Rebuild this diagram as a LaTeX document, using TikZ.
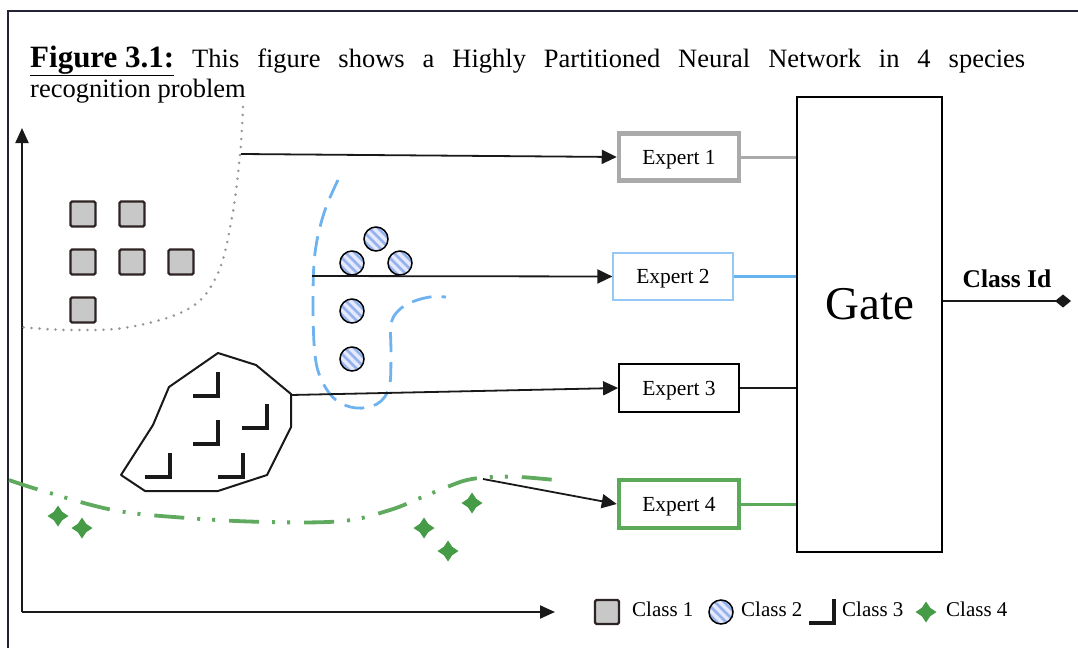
\documentclass[tikz,border=0pt]{standalone}
\usepackage{fontspec}
\setmainfont{Liberation Serif}
\usetikzlibrary{arrows.meta}

\definecolor{framec}{RGB}{35,35,55}
\definecolor{sqfill}{RGB}{200,200,200}
\definecolor{sqedge}{RGB}{45,35,35}
\definecolor{hatchbg}{RGB}{228,234,252}
\definecolor{hatchln}{RGB}{150,178,238}
\definecolor{bluedash}{RGB}{110,178,240}
\definecolor{greenln}{RGB}{95,170,95}
\definecolor{greenst}{RGB}{70,155,70}
\definecolor{greyln}{RGB}{170,170,170}
\definecolor{dotc}{RGB}{150,150,150}
\definecolor{expblue}{RGB}{150,200,245}
\definecolor{lineblue}{RGB}{100,180,240}
\definecolor{expgreen}{RGB}{90,170,90}

\tikzset{
  frameline/.style={draw=framec, line width=1.8pt},
  axisline/.style={line width=2pt, black!90, -{Triangle[length=15pt,width=13pt]}},
  feed/.style={line width=1.8pt, black!90, -{Triangle[length=15pt,width=14pt]}},
  sqmark/.style={draw=sqedge, fill=sqfill, line width=2.3pt, minimum size=25pt,
    inner sep=0pt, rounded corners=1.5pt},
  expert/.style={rectangle, fill=white, minimum width=120pt, minimum height=47pt,
    inner sep=0pt, text depth=0pt, font=\fontsize{21.5}{24}\selectfont},
  gatebox/.style={rectangle, draw=black, line width=1.8pt, minimum width=145pt,
    minimum height=455pt, inner sep=0pt},
  legendtext/.style={anchor=base west, inner sep=0pt, font=\fontsize{21}{24}\selectfont},
  titlefont/.style={anchor=base west, inner sep=0pt, font=\fontsize{26.5}{32}\selectfont},
  ctwo/.pic={
    \begin{scope}
      \clip (0,0) circle [radius=12pt];
      \fill[hatchbg] (-13,-13) rectangle (13,13);
      \foreach \k in {-14,-5,4,13}
        \draw[hatchln, line width=2.6pt] (\k-15,-15) -- ++(30,30);
    \end{scope}
    \draw[line width=1.5pt] (0,0) circle [radius=12pt];
  },
  cthree/.pic={
    \draw[line width=3.4pt, black!90, miter limit=4] (-25,0) -- (0,0) -- (0,-24);
  },
  cfour/.pic={
    \fill[greenst] (10.5,0) -- (4.2,4.2) -- (0,10.5) -- (-4.2,4.2) -- (-10.5,0)
      -- (-4.2,-4.2) -- (0,-10.5) -- (4.2,-4.2) -- cycle;
  }
}

\begin{document}
\begin{tikzpicture}[x=1pt, y=-1pt]
\useasboundingbox (0,0) rectangle (1078,648);
\fill[white] (0,0) rectangle (1078,648);

% outer frame (top and left edges)
\draw[frameline] (1078,11) -- (8,11) -- (8,648);

% caption
\node[titlefont] (title1) at (30,67)
  {\makebox[995pt][s]{{\fontsize{31}{32}\selectfont\bfseries\underline{Figure 3.1:}} This figure shows a Highly Partitioned Neural Network in 4 species}};
\node[titlefont] (title2) at (30,97) {recognition problem};

% feature-space axes
\coordinate (origin) at (22,612);
\coordinate (ytip) at (22,128);
\coordinate (xtip) at (555,612);
\draw[axisline] (origin) -- (ytip);
\draw[axisline] (origin) -- (xtip);

% class 1 region boundary (dotted)
\draw[dotc, line width=2.8pt, line cap=round, dash pattern=on 0pt off 8pt]
  plot[smooth, tension=0.6] coordinates {(243,107) (240,155) (232,217) (218,273)
    (190,308) (130,327) (70,330) (20,327)};

% class 1 samples
\node[sqmark] (s1) at (83,214) {};
\node[sqmark] (s2) at (132,214) {};
\node[sqmark] (s3) at (83,262) {};
\node[sqmark] (s4) at (132,262) {};
\node[sqmark] (s5) at (181,262) {};
\node[sqmark] (s6) at (83,310) {};

% class 2 region boundary (dashed blue)
\draw[bluedash, line width=2.8pt, dash pattern=on 20pt off 10pt]
  plot[smooth, tension=0.6] coordinates {(338,180) (324,213) (315,253) (313,303)
    (315,355) (322,381) (336,400) (356,408) (377,404) (389,388) (391,357)
    (391,325) (398,311) (412,302) (430,297) (446,297)};

% class 2 samples
\pic at (376,239) {ctwo};
\pic at (352,263) {ctwo};
\pic at (400,263) {ctwo};
\pic at (352,311) {ctwo};
\pic at (352,359) {ctwo};

% class 3 region and samples
\draw[line width=2pt, black!90, line join=round]
  (218,353) -- (256,365) -- (291,394) -- (291,427) -- (267,475) -- (218,491)
  -- (145,491) -- (121,475) -- (153,425) -- (169,387) -- cycle;
\pic at (218,396) {cthree};
\pic at (267,428) {cthree};
\pic at (218,444) {cthree};
\pic at (170,477) {cthree};
\pic at (243,477) {cthree};

% class 4 region boundary (dash-dot green)
\draw[greenln, line width=3.8pt,
  dash pattern=on 30pt off 13pt on 3pt off 12pt on 3pt off 14pt]
  plot[smooth, tension=0.6] coordinates {(9,480) (40,490) (113,510) (187,518)
    (267,522) (343,521) (390,510) (420,498) (447,487) (467,480) (490,477)
    (520,477) (555,480)};

% class 4 samples
\pic at (58,516) {cfour};
\pic at (82,528) {cfour};
\pic at (424,528) {cfour};
\pic at (472,503) {cfour};
\pic at (448,551) {cfour};

% experts
\node[expert, draw=greyln, line width=4.5pt] (e1) at (679,157) {Expert 1};
\node[expert, draw=expblue, line width=1.2pt] (e2) at (673,276.5) {Expert 2};
\node[expert, draw=black, line width=1.8pt, minimum height=48pt] (e3) at (679,388) {Expert 3};
\node[expert, draw=expgreen, line width=4.5pt, minimum height=48pt] (e4) at (679,504) {Expert 4};

% gate
\node[gatebox] (gate) at (869.5,324.5) {};
\node[anchor=base, inner sep=0pt, font=\fontsize{47}{50}\selectfont] (gatetext) at (870,319) {Gate};

% region-to-expert feeds
\coordinate (f1) at (241,154);
\coordinate (f2) at (312,276);
\coordinate (f3) at (291,395);
\coordinate (f4) at (483,479);
\draw[feed] (f1) -- (e1.west);
\draw[feed] (f2) -- (e2.west);
\draw[feed] (f3) -- (e3.west);
\draw[feed] (f4) -- (e4.west);

% expert-to-gate links
\draw[greyln, line width=3pt] (e1.east) -- (e1.east -| gate.west);
\draw[lineblue, line width=3pt] (e2.east) -- (e2.east -| gate.west);
\draw[black!90, line width=1.8pt] (e3.east) -- (e3.east -| gate.west);
\draw[expgreen, line width=3pt] (e4.east) -- (e4.east -| gate.west);

% gate output
\coordinate (cid) at (1071,301);
\draw[line width=1.8pt, black!90, -{Diamond[length=16pt,width=13pt]}] (cid -| gate.east) -- (cid);
\node[anchor=base, inner sep=0pt, font=\fontsize{25.5}{28}\selectfont\bfseries] (cidlbl) at (1007,287) {Class Id};

% legend
\node[sqmark, minimum size=24pt] (l1) at (607,612) {};
\node[legendtext] (l1t) at (632,616) {Class 1};
\pic at (721,612) {ctwo};
\node[legendtext] (l2t) at (741,616) {Class 2};
\pic at (834,623) {cthree};
\node[legendtext] (l3t) at (842,616) {Class 3};
\pic at (926,612) {cfour};
\node[legendtext] (l4t) at (946,616) {Class 4};
\end{tikzpicture}
\end{document}
